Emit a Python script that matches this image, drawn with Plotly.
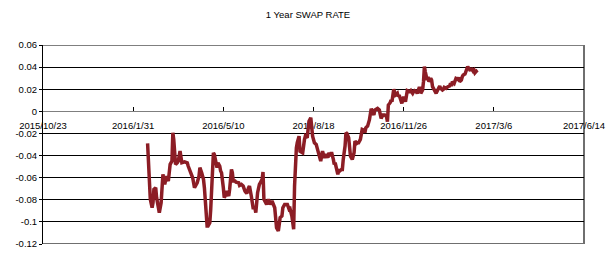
import plotly.graph_objects as go

title_text = "1 Year SWAP RATE"

dates = [
    "2016-02-16", "2016-02-18", "2016-02-19", "2016-02-21", "2016-02-22", "2016-02-23", "2016-02-25", "2016-02-26",
    "2016-02-28", "2016-02-29", "2016-03-02", "2016-03-03", "2016-03-04", "2016-03-06", "2016-03-07", "2016-03-08",
    "2016-03-10", "2016-03-11", "2016-03-12", "2016-03-14", "2016-03-15", "2016-03-16", "2016-03-17", "2016-03-18",
    "2016-03-20", "2016-03-21", "2016-03-23", "2016-03-24", "2016-03-25", "2016-03-28", "2016-03-31", "2016-04-01",
    "2016-04-03", "2016-04-05", "2016-04-06", "2016-04-08", "2016-04-09", "2016-04-11", "2016-04-13", "2016-04-14",
    "2016-04-16", "2016-04-18", "2016-04-19", "2016-04-20", "2016-04-22", "2016-04-23", "2016-04-25", "2016-04-26",
    "2016-04-28", "2016-04-29", "2016-04-30", "2016-05-02", "2016-05-03", "2016-05-04", "2016-05-06", "2016-05-07",
    "2016-05-08", "2016-05-10", "2016-05-11", "2016-05-12", "2016-05-14", "2016-05-15", "2016-05-16", "2016-05-17",
    "2016-05-19", "2016-05-20", "2016-05-21", "2016-05-23", "2016-05-24", "2016-05-27", "2016-05-28", "2016-05-30",
    "2016-06-01", "2016-06-03", "2016-06-05", "2016-06-07", "2016-06-08", "2016-06-10", "2016-06-11", "2016-06-12",
    "2016-06-14", "2016-06-15", "2016-06-17", "2016-06-18", "2016-06-19", "2016-06-20", "2016-06-22", "2016-06-23",
    "2016-06-24", "2016-06-26", "2016-06-27", "2016-06-29", "2016-07-01", "2016-07-03", "2016-07-04", "2016-07-06",
    "2016-07-07", "2016-07-08", "2016-07-10", "2016-07-11", "2016-07-12", "2016-07-14", "2016-07-15", "2016-07-17",
    "2016-07-18", "2016-07-20", "2016-07-22", "2016-07-23", "2016-07-25", "2016-07-26", "2016-07-27", "2016-07-28",
    "2016-07-29", "2016-07-30", "2016-07-31", "2016-08-02", "2016-08-03", "2016-08-05", "2016-08-06", "2016-08-08",
    "2016-08-09", "2016-08-11", "2016-08-12", "2016-08-13", "2016-08-15", "2016-08-16", "2016-08-17", "2016-08-19",
    "2016-08-20", "2016-08-21", "2016-08-23", "2016-08-24", "2016-08-26", "2016-08-27", "2016-08-28", "2016-08-30",
    "2016-09-01", "2016-09-03", "2016-09-04", "2016-09-06", "2016-09-07", "2016-09-09", "2016-09-10", "2016-09-11",
    "2016-09-13", "2016-09-14", "2016-09-15", "2016-09-16", "2016-09-18", "2016-09-19", "2016-09-20", "2016-09-22",
    "2016-09-23", "2016-09-24", "2016-09-26", "2016-09-27", "2016-09-28", "2016-09-30", "2016-10-01", "2016-10-02",
    "2016-10-03", "2016-10-05", "2016-10-06", "2016-10-07", "2016-10-09", "2016-10-10", "2016-10-11", "2016-10-13",
    "2016-10-14", "2016-10-15", "2016-10-17", "2016-10-19", "2016-10-20", "2016-10-21", "2016-10-23", "2016-10-24",
    "2016-10-25", "2016-10-27", "2016-10-28", "2016-10-30", "2016-10-31", "2016-11-01", "2016-11-03", "2016-11-04",
    "2016-11-05", "2016-11-07", "2016-11-08", "2016-11-09", "2016-11-11", "2016-11-12", "2016-11-13", "2016-11-15",
    "2016-11-16", "2016-11-17", "2016-11-19", "2016-11-20", "2016-11-21", "2016-11-23", "2016-11-24", "2016-11-25",
    "2016-11-26", "2016-11-28", "2016-11-29", "2016-11-30", "2016-12-02", "2016-12-03", "2016-12-04", "2016-12-06",
    "2016-12-07", "2016-12-08", "2016-12-10", "2016-12-11", "2016-12-13", "2016-12-14", "2016-12-15", "2016-12-17",
    "2016-12-18", "2016-12-19", "2016-12-20", "2016-12-22", "2016-12-23", "2016-12-24", "2016-12-26", "2016-12-27",
    "2016-12-28", "2016-12-30", "2016-12-31", "2017-01-01", "2017-01-03", "2017-01-04", "2017-01-05", "2017-01-06",
    "2017-01-08", "2017-01-09", "2017-01-10", "2017-01-12", "2017-01-13", "2017-01-14", "2017-01-16", "2017-01-17",
    "2017-01-18", "2017-01-19", "2017-01-21", "2017-01-22", "2017-01-23", "2017-01-25", "2017-01-26", "2017-01-27",
    "2017-01-29", "2017-01-30", "2017-01-31", "2017-02-02", "2017-02-03", "2017-02-04", "2017-02-05", "2017-02-07",
    "2017-02-08", "2017-02-09", "2017-02-11", "2017-02-12", "2017-02-13", "2017-02-15", "2017-02-16",
]

swap_rate = [
    -0.0290, -0.0616, -0.0796, -0.0872, -0.0827, -0.0706, -0.0691, -0.0781,
    -0.0887, -0.0917, -0.0827, -0.0646, -0.0570, -0.0661, -0.0616, -0.0586,
    -0.0631, -0.0525, -0.0480, -0.0450, -0.0194, -0.0254, -0.0405, -0.0480,
    -0.0465, -0.0450, -0.0360, -0.0405, -0.0465, -0.0456, -0.0465, -0.0495,
    -0.0540, -0.0570, -0.0601, -0.0691, -0.0676, -0.0646, -0.0586, -0.0510,
    -0.0555, -0.0616, -0.0691, -0.0857, -0.1037, -0.1037, -0.1007, -0.0887,
    -0.0616, -0.0375, -0.0390, -0.0465, -0.0510, -0.0465, -0.0495, -0.0540,
    -0.0555, -0.0691, -0.0781, -0.0766, -0.0721, -0.0751, -0.0766, -0.0706,
    -0.0525, -0.0555, -0.0631, -0.0631, -0.0640, -0.0646, -0.0670, -0.0661,
    -0.0676, -0.0721, -0.0742, -0.0691, -0.0676, -0.0766, -0.0857, -0.0872,
    -0.0872, -0.0917, -0.0736, -0.0676, -0.0661, -0.0646, -0.0616, -0.0549,
    -0.0796, -0.0827, -0.0842, -0.0796, -0.0842, -0.0811, -0.0827, -0.0872,
    -0.0962, -0.1052, -0.1082, -0.1037, -0.0962, -0.0947, -0.0872, -0.0842,
    -0.0842, -0.0842, -0.0887, -0.0881, -0.0947, -0.1052, -0.1067, -0.0676,
    -0.0405, -0.0330, -0.0284, -0.0224, -0.0360, -0.0375, -0.0375, -0.0254,
    -0.0224, -0.0239, -0.0164, -0.0089, -0.0058, -0.0134, -0.0224, -0.0284,
    -0.0290, -0.0299, -0.0360, -0.0390, -0.0450, -0.0405, -0.0360, -0.0420,
    -0.0390, -0.0420, -0.0375, -0.0405, -0.0369, -0.0435, -0.0480, -0.0465,
    -0.0525, -0.0570, -0.0525, -0.0540, -0.0525, -0.0525, -0.0435, -0.0314,
    -0.0194, -0.0200, -0.0239, -0.0330, -0.0405, -0.0435, -0.0405, -0.0375,
    -0.0269, -0.0290, -0.0284, -0.0284, -0.0254, -0.0209, -0.0164, -0.0170,
    -0.0194, -0.0149, -0.0134, -0.0078, 0.0012, 0.0024, -0.0018, -0.0033,
    0.0012, 0.0027, 0.0027, 0.0012, -0.0018, -0.0063, -0.0033, -0.0033,
    -0.0033, -0.0048, -0.0093, 0.0057, 0.0078, 0.0102, 0.0087, 0.0199,
    0.0178, 0.0148, 0.0163, 0.0133, 0.0148, 0.0102, 0.0072, 0.0102,
    0.0133, 0.0087, 0.0163, 0.0187, 0.0178, 0.0178, 0.0187, 0.0163,
    0.0178, 0.0187, 0.0178, 0.0163, 0.0208, 0.0208, 0.0163, 0.0193,
    0.0268, 0.0404, 0.0358, 0.0283, 0.0313, 0.0268, 0.0298, 0.0283,
    0.0223, 0.0178, 0.0178, 0.0163, 0.0193, 0.0217, 0.0229, 0.0208,
    0.0193, 0.0199, 0.0217, 0.0208, 0.0217, 0.0223, 0.0229, 0.0253,
    0.0229, 0.0268, 0.0253, 0.0289, 0.0298, 0.0289, 0.0307, 0.0268,
    0.0283, 0.0313, 0.0328, 0.0337, 0.0367, 0.0395, 0.0404, 0.0380,
    0.0367, 0.0389, 0.0364, 0.0373, 0.0349, 0.0367, 0.0373,
]

x_tick_dates = ["2015-10-23", "2016-01-31", "2016-05-10", "2016-08-18",
                "2016-11-26", "2017-03-06", "2017-06-14"]
x_tick_labels = ["2015/10/23", "2016/1/31", "2016/5/10", "2016/8/18",
                 "2016/11/26", "2017/3/6", "2017/6/14"]
y_tick_values = [-0.12, -0.1, -0.08, -0.06, -0.04, -0.02, 0, 0.02, 0.04, 0.06]
y_tick_labels = ["-0.12", "-0.1", "-0.08", "-0.06", "-0.04", "-0.02", "0",
                 "0.02", "0.04", "0.06"]

FONT = "Liberation Sans"
y_min, y_max = y_tick_values[0], y_tick_values[-1]

fig = go.Figure(
    go.Scatter(
        x=dates, y=swap_rate, mode="lines",
        line=dict(color="#8C1D25", width=3.5),
        showlegend=False,
    )
)

fig.update_layout(
    width=616, height=253,
    margin=dict(l=43, r=32, t=45, b=9, autoexpand=False),
    paper_bgcolor="white", plot_bgcolor="white",
    title=dict(text=title_text, x=0.5, xref="container", y=1 - 15 / 253,
               yref="container", xanchor="center", yanchor="middle",
               font=dict(family=FONT, size=9.5, color="#000000")),
    font=dict(family=FONT, size=9.5, color="#000000"),
    xaxis=dict(
        type="date",
        range=[x_tick_dates[0], x_tick_dates[-1]],
        tickmode="array", tickvals=x_tick_dates, ticktext=x_tick_labels,
        anchor="free", position=(0 - y_min) / (y_max - y_min),
        showgrid=False, zeroline=False, automargin=False,
        showline=True, linecolor="#7f7f7f", linewidth=1,
        ticks="inside", ticklen=4, tickcolor="#000000", tickwidth=1,
        tickfont=dict(family=FONT, size=9.5, color="#000000"),
        ticklabeloverflow="allow", ticklabelstandoff=5,
        layer="below traces",
    ),
    yaxis=dict(
        range=[y_min, y_max], automargin=False,
        tickmode="array", tickvals=y_tick_values, ticktext=y_tick_labels,
        showgrid=True, gridcolor="#000000", gridwidth=1,
        zeroline=False,
        showline=True, linecolor="#000000", linewidth=1,
        ticks="outside", ticklen=3, tickcolor="#000000",
        tickfont=dict(family=FONT, size=9.5, color="#000000"),
        layer="below traces",
    ),
    shapes=[
        dict(type="line", xref="x domain", yref="y", x0=0, x1=1, y0=y_max, y1=y_max,
             line=dict(color="#000000", width=1), layer="below"),
        dict(type="line", xref="x domain", yref="y", x0=0, x1=1, y0=y_min, y1=y_min,
             line=dict(color="#6f6f6f", width=2), layer="below"),
        dict(type="line", xref="x domain", yref="y", x0=1, x1=1, y0=y_min, y1=y_max,
             line=dict(color="#6f6f6f", width=2), layer="below"),
    ],
)

fig.write_html(
    "out.html",
    config={"displayModeBar": False},
    post_script="document.body.style.margin='0';document.body.style.overflow='hidden';",
)
